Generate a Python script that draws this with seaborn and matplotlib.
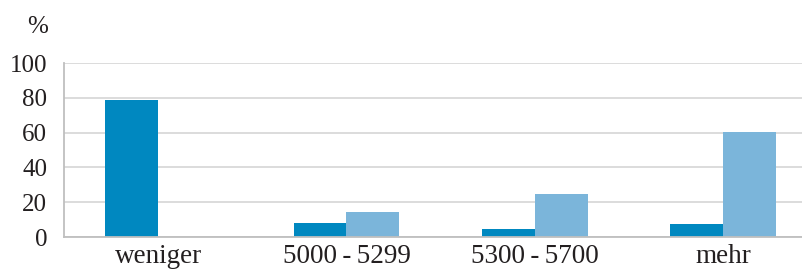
import pandas as pd
import matplotlib.pyplot as plt
import seaborn as sns

# values (percent)
categories = ["weniger", "5000\u2009-\u20095299", "5300\u2009-\u20095700", "mehr"]
series_names = ["Gruppe A", "Gruppe B"]
values_a = [79, 8.2, 4.8, 7.6]
values_b = [0, 14.5, 24.8, 60.2]
y_ticks = [0, 20, 40, 60, 80, 100]

colors = ["#0088C0", "#7BB5DA"]
grid_color = "#D9D9D9"
axis_color = "#BFBFBF"
text_color = "#231F20"

df = pd.DataFrame({
    "Kategorie": categories * 2,
    "Gruppe": [series_names[0]] * 4 + [series_names[1]] * 4,
    "Wert": values_a + values_b,
})

sns.set_style("white")
plt.rcParams["font.family"] = ["Liberation Serif", "DejaVu Serif"]

fig = plt.figure(figsize=(8.03, 2.75), dpi=100)
ax = fig.add_axes([64 / 803, 38 / 275, (803 - 64) / 803, 174 / 275])

sns.barplot(data=df, x="Kategorie", y="Wert", hue="Gruppe", order=categories,
            palette=colors, width=0.56, saturation=1, legend=False, ax=ax,
            linewidth=0)

ax.set_ylim(0, 100)
ax.set_xlim(-0.5, 3.424)
ax.set_yticks(y_ticks)
ax.set_yticklabels([str(t) for t in y_ticks])
ax.yaxis.grid(True, color=grid_color, linewidth=1.3)
ax.set_axisbelow(True)

for side in ["top", "right"]:
    ax.spines[side].set_visible(False)
for side in ["left", "bottom"]:
    ax.spines[side].set_color(axis_color)
    ax.spines[side].set_linewidth(1.3)

# small ticks: at category boundaries below the axis, and at 0 left of it
ax.yaxis.remove_overlapping_locs = False
ax.set_xticks([-0.5, 0.5, 1.5, 2.5], minor=True)
ax.set_yticks([0], minor=True)
ax.tick_params(axis="x", which="minor", length=10, width=1.3, color=axis_color)
ax.tick_params(axis="y", which="minor", length=7, width=1.3, color=axis_color)
ax.tick_params(axis="both", which="major", length=0, labelcolor=text_color)
ax.tick_params(axis="y", which="major", pad=12, labelsize=18)
ax.tick_params(axis="x", which="major", pad=5, labelsize=19.5)

ax.set_xlabel("")
ax.set_ylabel("")
fig.text(48 / 803, 1 - 27 / 275, "%", ha="right", va="center",
         fontsize=18, color=text_color)

fig.savefig("out.png", dpi=100, facecolor="white")
